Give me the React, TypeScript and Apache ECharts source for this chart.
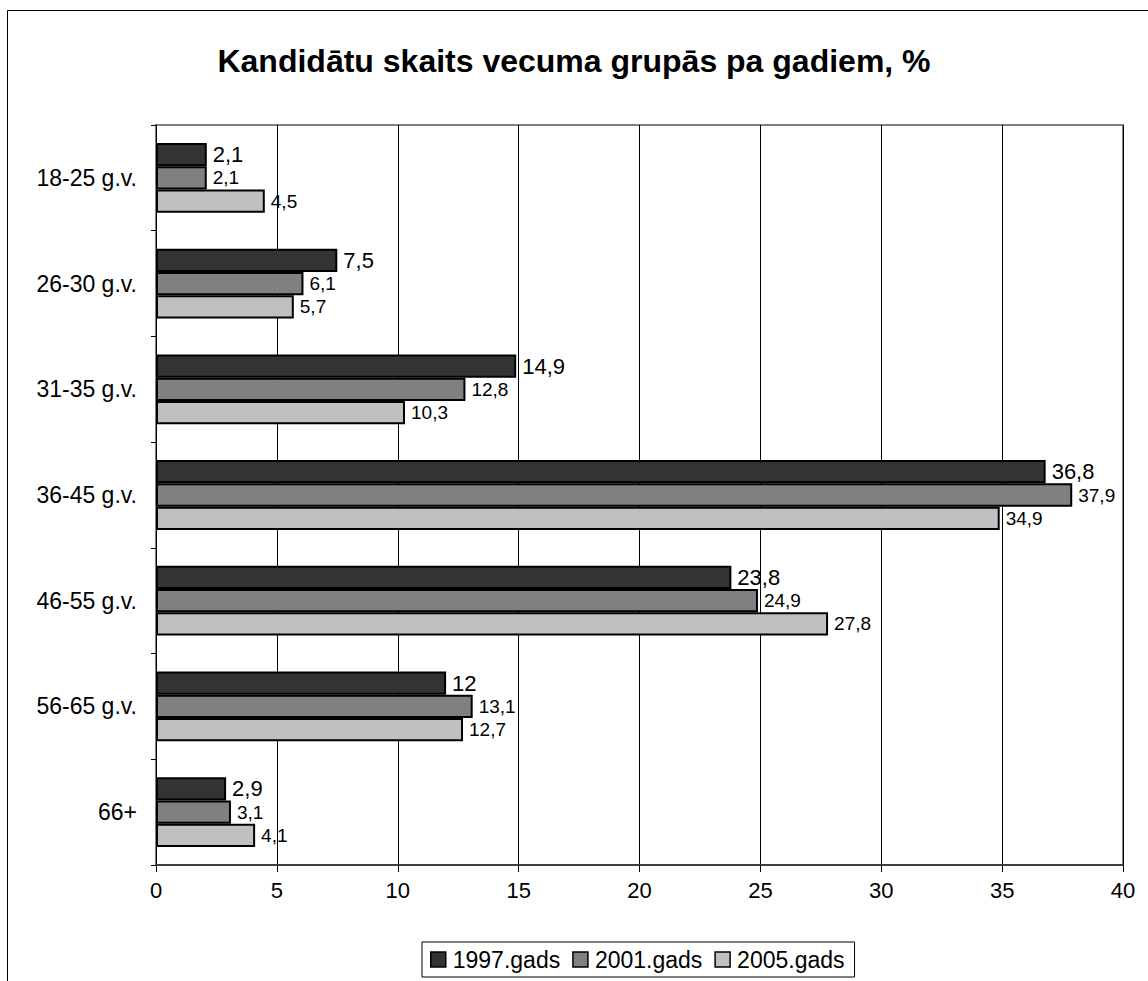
import React, { useEffect, useRef } from "react";
import * as echarts from "echarts";

const categories = ["18-25 g.v.", "26-30 g.v.", "31-35 g.v.", "36-45 g.v.", "46-55 g.v.", "56-65 g.v.", "66+"];
const seriesNames = ["1997.gads", "2001.gads", "2005.gads"];
const values1997 = [2.1, 7.5, 14.9, 36.8, 23.8, 12, 2.9];
const values2001 = [2.1, 6.1, 12.8, 37.9, 24.9, 13.1, 3.1];
const values2005 = [4.5, 5.7, 10.3, 34.9, 27.8, 12.7, 4.1];
const xTicks = { min: 0, max: 40, interval: 5 };

const colors = ["#333333", "#808080", "#C0C0C0"];
const labelSizes = [22, 19, 19];
const FONT = "Arial, 'Liberation Sans', sans-serif";

export default function App() {
  const ref = useRef<HTMLDivElement>(null);
  useEffect(() => {
    if (!ref.current) return;
    const chart = echarts.init(ref.current, undefined, { renderer: "svg" });
    const all = [values1997, values2001, values2005];
    chart.setOption({
      animation: false,
      backgroundColor: "#ffffff",
      textStyle: { fontFamily: FONT },
      title: {
        text: "Kandidātu skaits vecuma grupās pa gadiem, %",
        left: "center",
        top: 40,
        textStyle: { fontSize: 32, fontWeight: "bold", color: "#000", fontFamily: FONT },
      },
      graphic: [
        { type: "line", shape: { x1: 7.5, y1: 10.5, x2: 1148, y2: 10.5 }, style: { stroke: "#000", lineWidth: 1 } },
        { type: "line", shape: { x1: 7.5, y1: 10.5, x2: 7.5, y2: 981 }, style: { stroke: "#000", lineWidth: 1 } },
      ],
      legend: {
        bottom: 4,
        left: 422,
        itemWidth: 15,
        itemHeight: 15,
        itemGap: 12,
        padding: [6, 10, 6, 8],
        borderColor: "#000",
        borderWidth: 1,
        icon: "rect",
        textStyle: { fontSize: 23, color: "#000", fontFamily: FONT, padding: [0, 0, 0, 2] },
        itemStyle: { borderColor: "#000", borderWidth: 1.5 },
        data: seriesNames,
      },
      grid: {
        left: 156,
        right: 25,
        top: 125,
        bottom: 116,
        show: true,
        borderColor: "#808080",
        borderWidth: 2,
      },
      xAxis: {
        type: "value",
        min: xTicks.min,
        max: xTicks.max,
        interval: xTicks.interval,
        axisLine: { show: true, lineStyle: { color: "#404040", width: 2 } },
        axisTick: { show: true, length: 7, lineStyle: { color: "#000", width: 1 } },
        axisLabel: { fontSize: 22, color: "#000", margin: 14, fontFamily: FONT },
        splitLine: { show: true, lineStyle: { color: "#000", width: 1 } },
      },
      yAxis: {
        type: "category",
        inverse: true,
        data: categories,
        axisLine: { show: true, lineStyle: { color: "#000", width: 1 } },
        axisTick: { show: true, length: 5, lineStyle: { color: "#000" } },
        axisLabel: { fontSize: 23, color: "#000", margin: 19, fontFamily: FONT },
      },
      series: seriesNames.map((name, i) => ({
        name,
        type: "bar",
        data: all[i],
        barGap: "0%",
        barCategoryGap: "34%",
        itemStyle: { color: colors[i], borderColor: "#000", borderWidth: 2 },
        label: {
          show: true,
          position: "right",
          distance: 6,
          fontSize: labelSizes[i],
          color: "#000",
          fontFamily: FONT,
          formatter: (p: any) => String(p.value).replace(".", ","),
        },
      })),
    });
    return () => chart.dispose();
  }, []);
  return <div ref={ref} style={{ position: "fixed", left: 0, top: 0, width: 1148, height: 981 }} />;
}
